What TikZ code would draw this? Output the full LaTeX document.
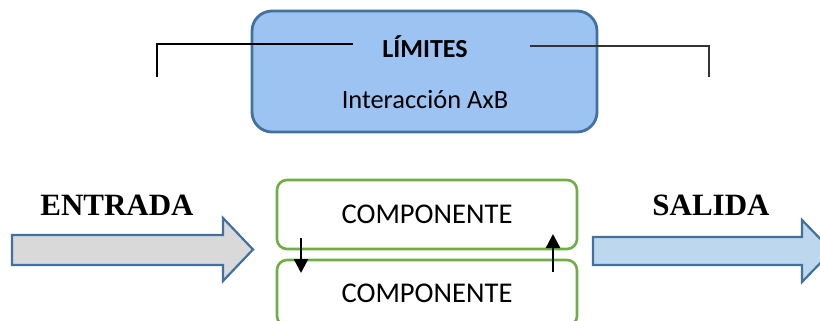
\documentclass[tikz,border=0pt]{standalone}
\usepackage{fontspec}
\setmainfont{Carlito}
\newfontfamily\timesfont{Liberation Serif}
\usetikzlibrary{arrows.meta}
\definecolor{limblue}{HTML}{9DC3F2}
\definecolor{limborder}{HTML}{41719C}
\definecolor{compgreen}{HTML}{70AD47}
\definecolor{outblue}{HTML}{BDD7EE}
\definecolor{ingray}{HTML}{D9D9D9}

\begin{document}
\begin{tikzpicture}[x=0.5pt, y=-0.5pt,
	limitbox/.style={draw=limborder, fill=limblue, line width=1.4pt, rounded corners=10pt, minimum width=172.5pt, minimum height=60.5pt},
	compbox/.style={draw=compgreen, line width=1.3pt, rounded corners=5pt, minimum width=150pt, font=\fontsize{14.3}{16}\selectfont},
	blockarrow/.style={draw=limborder, line width=1.1pt},
	iotext/.style={font=\timesfont\bfseries\fontsize{15.5}{18}\selectfont},
	flow/.style={line width=1.2pt, -{Triangle[length=7pt, width=7pt]}}]
			\clip (0,0) rectangle (820,321);
			% limites
			\node[limitbox] (lim) at (424.5,71.5) {};
			\node[font=\bfseries\fontsize{13}{15}\selectfont] (limtitle) at (425,47) {LÍMITES};
			\node[font=\fontsize{13.2}{15}\selectfont] (inter) at (425,100) {Interacción AxB};
			\coordinate (limL) at (353,44);
			\coordinate (limR) at (530,46);
			\draw[line width=0.6pt] (limL) -| (157,77);
			\draw[line width=0.8pt, black!80] (limR) -| (709,77);
			% componentes
			\node[compbox, minimum height=34.5pt] (comp1) at (427,214.5) {COMPONENTE};
			\node[compbox, minimum height=33pt] (comp2) at (427,293) {COMPONENTE};
			\coordinate (down1) at (301,238);
			\coordinate (down2) at (301,273);
			\coordinate (up1) at (553,272);
			\coordinate (up2) at (553,234);
			\draw[flow] (down1) -- (down2);
			\draw[flow] (up1) -- (up2);
			% entrada / salida
			\draw[blockarrow, fill=ingray] (12,235) -- (223,235) -- (223,218) -- (253,249.5) -- (223,281) -- (223,265) -- (12,265) -- cycle;
			\draw[blockarrow, fill=outblue] (593,237) -- (802,237) -- (802,220) -- (832,251) -- (802,282) -- (802,265) -- (593,265) -- cycle;
			\node[iotext] (entrada) at (117,205) {ENTRADA};
			\node[iotext] (salida) at (711,205) {SALIDA};
\end{tikzpicture}
\end{document}
